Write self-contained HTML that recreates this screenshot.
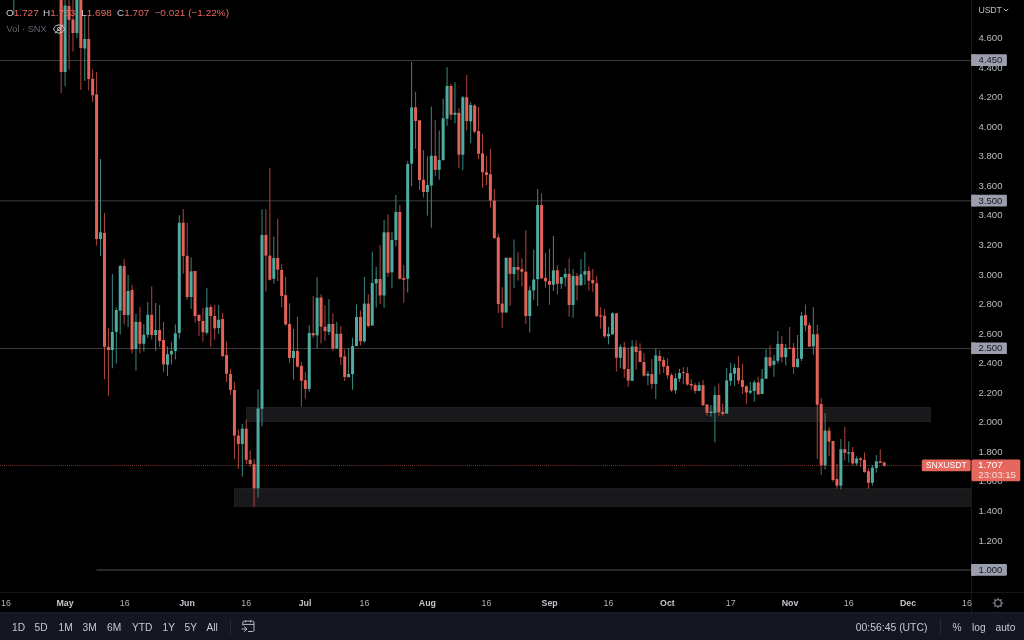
<!DOCTYPE html>
<html><head><meta charset="utf-8"><title>SNXUSDT</title>
<style>
html,body{margin:0;padding:0;background:#000;}
body{width:1024px;height:640px;overflow:hidden;position:relative;font-family:"Liberation Sans",sans-serif;color:#b2b5be;}
#chart{position:absolute;left:0;top:0;width:1024px;height:612px;background:#000;overflow:hidden;}
svg{position:absolute;left:0;top:0;}
.zone{position:absolute;background:#19191c;border:1px solid #1d1d20;box-sizing:border-box;}
#vaxis{position:absolute;left:971px;top:0;width:1px;height:612px;background:#151617;}
#haxis{position:absolute;left:0;top:592px;width:1024px;height:1px;background:#151617;}
.yl{position:absolute;left:978.5px;font-size:9.6px;line-height:12px;color:#b9bcc4;white-space:nowrap;}
.tag{position:absolute;left:971.3px;width:28.4px;height:11.7px;color:#16181e;font-size:9.5px;line-height:12.9px;padding-left:7.3px;white-space:nowrap;}
.xl{position:absolute;top:596.6px;width:40px;text-align:center;font-size:8.9px;line-height:12px;color:#aeb1ba;}
.xl.b{font-weight:bold;color:#c3c5cc;font-size:8.8px;}
#legend{position:absolute;left:0;top:6.5px;font-size:10px;line-height:12px;color:#c9ccd3;white-space:nowrap;}
#legend i{position:absolute;top:0;font-style:normal;transform:scaleY(0.92);transform-origin:0 9.46px;}
#legend span{color:#e8685d;}
#legend2{position:absolute;left:6.6px;top:22.6px;font-size:9.25px;line-height:12px;color:#63666f;white-space:nowrap;}
#bar{position:absolute;left:0;top:612px;width:1024px;height:28px;background:#141622;border-top:1px solid #1c1f2b;box-sizing:border-box;}
#bar .t{position:absolute;top:7.8px;font-size:10.2px;line-height:13px;color:#c6c9d1;white-space:nowrap;}
.sep{position:absolute;top:5.6px;width:1px;height:15.4px;background:#262936;}
#ptag{position:absolute;left:971.5px;top:459.3px;width:48.8px;height:22px;color:#fff;font-size:9.8px;line-height:10.5px;}
#ptag div{position:absolute;left:6.6px;white-space:nowrap;}
#stag{position:absolute;left:921.7px;top:459.3px;width:49px;height:11.8px;color:#fff;font-size:8.55px;line-height:12.8px;text-align:center;}
</style></head><body>
<div id="chart">
<div class="zone" style="left:246px;top:407px;width:685px;height:15px"></div>
<div class="zone" style="left:234px;top:487.7px;width:737px;height:19px"></div>
<svg width="971" height="592" viewBox="0 0 971 592" shape-rendering="auto">
<rect x="0" y="60" width="971" height="1" fill="#3a3b3e"/>
<rect x="0" y="200.3" width="971" height="1" fill="#3a3b3e"/>
<rect x="0" y="348" width="971" height="1" fill="#3a3b3e"/>
<rect x="96.6" y="569" width="874.4" height="2" fill="#29292c"/>
<line x1="0" y1="465.5" x2="921" y2="465.5" stroke="#80383a" stroke-width="1" stroke-dasharray="1 1.03"/>
<rect x="60.65" y="-5.00" width="1" height="98.00" fill="#b0463e"/>
<rect x="64.59" y="-5.00" width="1" height="91.00" fill="#3a8a81"/>
<rect x="68.53" y="-5.00" width="1" height="74.50" fill="#b0463e"/>
<rect x="72.46" y="-5.00" width="1" height="56.50" fill="#b0463e"/>
<rect x="76.40" y="-5.00" width="1" height="43.00" fill="#3a8a81"/>
<rect x="80.34" y="-5.00" width="1" height="95.00" fill="#b0463e"/>
<rect x="84.28" y="15.00" width="1" height="66.00" fill="#3a8a81"/>
<rect x="88.22" y="15.00" width="1" height="75.50" fill="#b0463e"/>
<rect x="92.15" y="69.40" width="1" height="32.50" fill="#b0463e"/>
<rect x="96.09" y="72.20" width="1" height="173.40" fill="#b0463e"/>
<rect x="100.03" y="159.00" width="1" height="97.00" fill="#3a8a81"/>
<rect x="103.97" y="213.00" width="1" height="166.20" fill="#b0463e"/>
<rect x="107.91" y="328.00" width="1" height="68.00" fill="#b0463e"/>
<rect x="111.84" y="274.00" width="1" height="94.30" fill="#3a8a81"/>
<rect x="115.78" y="307.50" width="1" height="56.10" fill="#3a8a81"/>
<rect x="119.72" y="265.00" width="1" height="69.40" fill="#3a8a81"/>
<rect x="123.66" y="259.00" width="1" height="65.50" fill="#b0463e"/>
<rect x="127.60" y="275.00" width="1" height="52.00" fill="#3a8a81"/>
<rect x="131.53" y="285.00" width="1" height="68.40" fill="#b0463e"/>
<rect x="135.47" y="313.60" width="1" height="57.00" fill="#3a8a81"/>
<rect x="139.41" y="307.00" width="1" height="46.40" fill="#b0463e"/>
<rect x="143.35" y="324.00" width="1" height="27.40" fill="#3a8a81"/>
<rect x="147.29" y="302.00" width="1" height="35.80" fill="#3a8a81"/>
<rect x="151.22" y="286.40" width="1" height="53.30" fill="#b0463e"/>
<rect x="155.16" y="303.00" width="1" height="47.80" fill="#3a8a81"/>
<rect x="159.10" y="305.00" width="1" height="41.90" fill="#b0463e"/>
<rect x="163.04" y="322.00" width="1" height="49.90" fill="#b0463e"/>
<rect x="166.98" y="346.40" width="1" height="29.60" fill="#3a8a81"/>
<rect x="170.91" y="342.50" width="1" height="21.90" fill="#3a8a81"/>
<rect x="174.85" y="324.50" width="1" height="34.90" fill="#3a8a81"/>
<rect x="178.79" y="215.30" width="1" height="123.30" fill="#3a8a81"/>
<rect x="182.73" y="209.00" width="1" height="64.75" fill="#b0463e"/>
<rect x="186.67" y="223.00" width="1" height="76.70" fill="#b0463e"/>
<rect x="190.60" y="257.30" width="1" height="51.70" fill="#3a8a81"/>
<rect x="194.54" y="271.00" width="1" height="51.60" fill="#b0463e"/>
<rect x="198.48" y="314.00" width="1" height="21.80" fill="#b0463e"/>
<rect x="202.42" y="308.00" width="1" height="33.70" fill="#b0463e"/>
<rect x="206.36" y="288.00" width="1" height="46.70" fill="#3a8a81"/>
<rect x="210.29" y="304.70" width="1" height="42.50" fill="#b0463e"/>
<rect x="214.23" y="305.00" width="1" height="34.70" fill="#b0463e"/>
<rect x="218.17" y="305.00" width="1" height="29.00" fill="#3a8a81"/>
<rect x="222.11" y="312.80" width="1" height="44.50" fill="#b0463e"/>
<rect x="226.05" y="341.70" width="1" height="40.30" fill="#b0463e"/>
<rect x="229.98" y="369.00" width="1" height="25.80" fill="#b0463e"/>
<rect x="233.92" y="381.90" width="1" height="76.85" fill="#b0463e"/>
<rect x="237.86" y="429.40" width="1" height="39.35" fill="#b0463e"/>
<rect x="241.80" y="423.90" width="1" height="52.70" fill="#3a8a81"/>
<rect x="245.74" y="419.40" width="1" height="44.60" fill="#b0463e"/>
<rect x="249.67" y="450.50" width="1" height="16.10" fill="#b0463e"/>
<rect x="253.61" y="459.00" width="1" height="47.70" fill="#b0463e"/>
<rect x="257.55" y="389.20" width="1" height="108.50" fill="#3a8a81"/>
<rect x="261.49" y="209.20" width="1" height="217.20" fill="#3a8a81"/>
<rect x="265.43" y="209.20" width="1" height="82.40" fill="#b0463e"/>
<rect x="269.36" y="167.80" width="1" height="112.80" fill="#b0463e"/>
<rect x="273.30" y="236.90" width="1" height="46.85" fill="#3a8a81"/>
<rect x="277.24" y="218.60" width="1" height="62.40" fill="#b0463e"/>
<rect x="281.18" y="264.20" width="1" height="43.00" fill="#b0463e"/>
<rect x="285.12" y="277.00" width="1" height="48.60" fill="#b0463e"/>
<rect x="289.05" y="303.30" width="1" height="59.40" fill="#b0463e"/>
<rect x="292.99" y="329.00" width="1" height="50.60" fill="#3a8a81"/>
<rect x="296.93" y="316.80" width="1" height="50.70" fill="#b0463e"/>
<rect x="300.87" y="361.90" width="1" height="44.90" fill="#b0463e"/>
<rect x="304.81" y="372.00" width="1" height="26.60" fill="#b0463e"/>
<rect x="308.74" y="325.20" width="1" height="66.40" fill="#3a8a81"/>
<rect x="312.68" y="296.25" width="1" height="41.75" fill="#b0463e"/>
<rect x="316.62" y="277.20" width="1" height="71.40" fill="#3a8a81"/>
<rect x="320.56" y="294.40" width="1" height="49.20" fill="#b0463e"/>
<rect x="324.50" y="305.30" width="1" height="35.50" fill="#b0463e"/>
<rect x="328.43" y="299.00" width="1" height="36.00" fill="#3a8a81"/>
<rect x="332.37" y="313.40" width="1" height="37.60" fill="#b0463e"/>
<rect x="336.31" y="321.70" width="1" height="26.90" fill="#3a8a81"/>
<rect x="340.25" y="326.00" width="1" height="39.00" fill="#b0463e"/>
<rect x="344.19" y="349.40" width="1" height="31.60" fill="#b0463e"/>
<rect x="348.12" y="348.30" width="1" height="28.90" fill="#3a8a81"/>
<rect x="352.06" y="337.70" width="1" height="52.00" fill="#3a8a81"/>
<rect x="356.00" y="304.50" width="1" height="41.75" fill="#3a8a81"/>
<rect x="359.94" y="310.60" width="1" height="34.90" fill="#b0463e"/>
<rect x="363.88" y="277.00" width="1" height="66.00" fill="#3a8a81"/>
<rect x="367.81" y="294.20" width="1" height="33.30" fill="#b0463e"/>
<rect x="371.75" y="251.80" width="1" height="73.70" fill="#3a8a81"/>
<rect x="375.69" y="267.00" width="1" height="40.50" fill="#3a8a81"/>
<rect x="379.63" y="245.00" width="1" height="59.00" fill="#b0463e"/>
<rect x="383.57" y="220.00" width="1" height="87.70" fill="#3a8a81"/>
<rect x="387.50" y="214.40" width="1" height="62.30" fill="#b0463e"/>
<rect x="391.44" y="232.00" width="1" height="56.40" fill="#3a8a81"/>
<rect x="395.38" y="195.00" width="1" height="51.25" fill="#3a8a81"/>
<rect x="399.32" y="205.00" width="1" height="74.50" fill="#b0463e"/>
<rect x="403.26" y="265.00" width="1" height="37.70" fill="#b0463e"/>
<rect x="407.19" y="161.25" width="1" height="131.25" fill="#3a8a81"/>
<rect x="411.13" y="62.00" width="1" height="124.25" fill="#3a8a81"/>
<rect x="415.07" y="91.70" width="1" height="57.05" fill="#b0463e"/>
<rect x="419.01" y="120.30" width="1" height="69.70" fill="#b0463e"/>
<rect x="422.95" y="150.00" width="1" height="47.50" fill="#b0463e"/>
<rect x="426.88" y="156.25" width="1" height="59.35" fill="#3a8a81"/>
<rect x="430.82" y="106.60" width="1" height="121.10" fill="#3a8a81"/>
<rect x="434.76" y="120.30" width="1" height="56.10" fill="#b0463e"/>
<rect x="438.70" y="130.50" width="1" height="49.20" fill="#3a8a81"/>
<rect x="442.64" y="98.75" width="1" height="62.05" fill="#3a8a81"/>
<rect x="446.57" y="67.20" width="1" height="58.60" fill="#3a8a81"/>
<rect x="450.51" y="84.00" width="1" height="35.80" fill="#b0463e"/>
<rect x="454.45" y="82.30" width="1" height="41.10" fill="#3a8a81"/>
<rect x="458.39" y="108.00" width="1" height="60.00" fill="#b0463e"/>
<rect x="462.33" y="96.00" width="1" height="74.30" fill="#3a8a81"/>
<rect x="466.26" y="75.00" width="1" height="55.50" fill="#b0463e"/>
<rect x="470.20" y="102.30" width="1" height="40.90" fill="#3a8a81"/>
<rect x="474.14" y="104.20" width="1" height="29.30" fill="#b0463e"/>
<rect x="478.08" y="107.00" width="1" height="52.00" fill="#b0463e"/>
<rect x="482.02" y="134.00" width="1" height="53.80" fill="#b0463e"/>
<rect x="485.95" y="155.80" width="1" height="29.20" fill="#b0463e"/>
<rect x="489.89" y="149.00" width="1" height="58.70" fill="#b0463e"/>
<rect x="493.83" y="189.00" width="1" height="50.00" fill="#b0463e"/>
<rect x="497.77" y="233.75" width="1" height="79.25" fill="#b0463e"/>
<rect x="501.71" y="287.10" width="1" height="40.70" fill="#b0463e"/>
<rect x="505.64" y="257.70" width="1" height="54.80" fill="#3a8a81"/>
<rect x="509.58" y="257.70" width="1" height="48.10" fill="#b0463e"/>
<rect x="513.52" y="239.40" width="1" height="48.60" fill="#3a8a81"/>
<rect x="517.46" y="252.20" width="1" height="28.40" fill="#b0463e"/>
<rect x="521.40" y="258.40" width="1" height="28.10" fill="#b0463e"/>
<rect x="525.33" y="230.30" width="1" height="93.70" fill="#b0463e"/>
<rect x="529.27" y="286.30" width="1" height="46.20" fill="#3a8a81"/>
<rect x="533.21" y="249.50" width="1" height="50.25" fill="#3a8a81"/>
<rect x="537.15" y="189.00" width="1" height="117.10" fill="#3a8a81"/>
<rect x="541.09" y="193.30" width="1" height="85.20" fill="#b0463e"/>
<rect x="545.02" y="253.00" width="1" height="34.50" fill="#b0463e"/>
<rect x="548.96" y="248.75" width="1" height="55.95" fill="#b0463e"/>
<rect x="552.90" y="236.00" width="1" height="55.00" fill="#3a8a81"/>
<rect x="556.84" y="265.20" width="1" height="29.30" fill="#b0463e"/>
<rect x="560.78" y="277.00" width="1" height="12.00" fill="#3a8a81"/>
<rect x="564.71" y="268.30" width="1" height="18.10" fill="#3a8a81"/>
<rect x="568.65" y="258.40" width="1" height="58.50" fill="#b0463e"/>
<rect x="572.59" y="269.00" width="1" height="48.70" fill="#3a8a81"/>
<rect x="576.53" y="273.00" width="1" height="27.50" fill="#b0463e"/>
<rect x="580.47" y="259.20" width="1" height="26.10" fill="#3a8a81"/>
<rect x="584.40" y="251.90" width="1" height="32.90" fill="#3a8a81"/>
<rect x="588.34" y="266.40" width="1" height="23.90" fill="#b0463e"/>
<rect x="592.28" y="269.00" width="1" height="22.90" fill="#b0463e"/>
<rect x="596.22" y="276.20" width="1" height="41.00" fill="#b0463e"/>
<rect x="600.16" y="307.20" width="1" height="21.40" fill="#b0463e"/>
<rect x="604.09" y="309.00" width="1" height="29.00" fill="#b0463e"/>
<rect x="608.03" y="326.90" width="1" height="17.50" fill="#3a8a81"/>
<rect x="611.97" y="312.20" width="1" height="22.20" fill="#3a8a81"/>
<rect x="615.91" y="313.30" width="1" height="58.30" fill="#b0463e"/>
<rect x="619.85" y="344.50" width="1" height="23.50" fill="#3a8a81"/>
<rect x="623.78" y="341.90" width="1" height="35.80" fill="#b0463e"/>
<rect x="627.72" y="347.70" width="1" height="39.00" fill="#b0463e"/>
<rect x="631.66" y="340.30" width="1" height="40.50" fill="#3a8a81"/>
<rect x="635.60" y="340.30" width="1" height="29.20" fill="#b0463e"/>
<rect x="639.54" y="343.40" width="1" height="18.60" fill="#b0463e"/>
<rect x="643.47" y="353.00" width="1" height="23.60" fill="#b0463e"/>
<rect x="647.41" y="371.00" width="1" height="14.30" fill="#3a8a81"/>
<rect x="651.35" y="359.00" width="1" height="29.80" fill="#b0463e"/>
<rect x="655.29" y="348.40" width="1" height="50.70" fill="#3a8a81"/>
<rect x="659.23" y="350.30" width="1" height="24.20" fill="#b0463e"/>
<rect x="663.16" y="357.00" width="1" height="16.00" fill="#b0463e"/>
<rect x="667.10" y="358.30" width="1" height="20.40" fill="#b0463e"/>
<rect x="671.04" y="373.10" width="1" height="18.70" fill="#b0463e"/>
<rect x="674.98" y="373.10" width="1" height="20.60" fill="#3a8a81"/>
<rect x="678.92" y="368.70" width="1" height="13.30" fill="#3a8a81"/>
<rect x="682.85" y="367.10" width="1" height="17.20" fill="#b0463e"/>
<rect x="686.79" y="367.10" width="1" height="18.60" fill="#b0463e"/>
<rect x="690.73" y="379.00" width="1" height="10.75" fill="#b0463e"/>
<rect x="694.67" y="383.20" width="1" height="10.50" fill="#b0463e"/>
<rect x="698.61" y="382.00" width="1" height="9.00" fill="#3a8a81"/>
<rect x="702.54" y="380.10" width="1" height="25.70" fill="#b0463e"/>
<rect x="706.48" y="404.50" width="1" height="11.30" fill="#b0463e"/>
<rect x="710.42" y="405.00" width="1" height="11.60" fill="#3a8a81"/>
<rect x="714.36" y="386.25" width="1" height="56.05" fill="#3a8a81"/>
<rect x="718.30" y="383.50" width="1" height="32.30" fill="#b0463e"/>
<rect x="722.23" y="403.40" width="1" height="12.40" fill="#b0463e"/>
<rect x="726.17" y="368.00" width="1" height="45.60" fill="#3a8a81"/>
<rect x="730.11" y="362.90" width="1" height="23.00" fill="#3a8a81"/>
<rect x="734.05" y="364.00" width="1" height="21.90" fill="#3a8a81"/>
<rect x="737.99" y="355.80" width="1" height="28.65" fill="#b0463e"/>
<rect x="741.92" y="363.85" width="1" height="30.25" fill="#b0463e"/>
<rect x="745.86" y="385.20" width="1" height="19.00" fill="#b0463e"/>
<rect x="749.80" y="382.00" width="1" height="12.10" fill="#3a8a81"/>
<rect x="753.74" y="380.40" width="1" height="21.50" fill="#3a8a81"/>
<rect x="757.68" y="376.90" width="1" height="17.55" fill="#b0463e"/>
<rect x="761.61" y="369.00" width="1" height="25.00" fill="#3a8a81"/>
<rect x="765.55" y="349.00" width="1" height="29.75" fill="#3a8a81"/>
<rect x="769.49" y="345.50" width="1" height="22.20" fill="#b0463e"/>
<rect x="773.43" y="354.80" width="1" height="22.00" fill="#3a8a81"/>
<rect x="777.37" y="331.00" width="1" height="32.40" fill="#3a8a81"/>
<rect x="781.30" y="336.00" width="1" height="26.60" fill="#b0463e"/>
<rect x="785.24" y="343.90" width="1" height="21.60" fill="#3a8a81"/>
<rect x="789.18" y="327.00" width="1" height="22.00" fill="#b0463e"/>
<rect x="793.12" y="342.80" width="1" height="31.10" fill="#b0463e"/>
<rect x="797.06" y="335.00" width="1" height="32.20" fill="#3a8a81"/>
<rect x="800.99" y="311.90" width="1" height="49.10" fill="#3a8a81"/>
<rect x="804.93" y="304.50" width="1" height="26.90" fill="#b0463e"/>
<rect x="808.87" y="322.50" width="1" height="24.50" fill="#b0463e"/>
<rect x="812.81" y="307.20" width="1" height="47.60" fill="#3a8a81"/>
<rect x="816.75" y="324.70" width="1" height="134.05" fill="#b0463e"/>
<rect x="820.68" y="397.80" width="1" height="76.90" fill="#b0463e"/>
<rect x="824.62" y="413.00" width="1" height="56.70" fill="#3a8a81"/>
<rect x="828.56" y="427.00" width="1" height="29.00" fill="#b0463e"/>
<rect x="832.50" y="441.00" width="1" height="40.70" fill="#b0463e"/>
<rect x="836.44" y="464.20" width="1" height="24.55" fill="#b0463e"/>
<rect x="840.37" y="439.00" width="1" height="50.50" fill="#3a8a81"/>
<rect x="844.31" y="427.00" width="1" height="33.60" fill="#b0463e"/>
<rect x="848.25" y="441.40" width="1" height="21.10" fill="#3a8a81"/>
<rect x="852.19" y="447.00" width="1" height="18.30" fill="#b0463e"/>
<rect x="856.13" y="456.25" width="1" height="9.55" fill="#3a8a81"/>
<rect x="860.06" y="457.50" width="1" height="9.40" fill="#b0463e"/>
<rect x="864.00" y="452.50" width="1" height="20.20" fill="#b0463e"/>
<rect x="867.94" y="468.40" width="1" height="20.35" fill="#b0463e"/>
<rect x="871.88" y="465.00" width="1" height="20.60" fill="#3a8a81"/>
<rect x="875.82" y="455.20" width="1" height="17.50" fill="#3a8a81"/>
<rect x="879.75" y="449.20" width="1" height="13.80" fill="#b0463e"/>
<rect x="883.69" y="461.40" width="1" height="5.20" fill="#b0463e"/>
<rect x="59.65" y="-5.00" width="3" height="77.00" fill="#e26257"/>
<rect x="63.59" y="5.50" width="3" height="66.50" fill="#4fab9f"/>
<rect x="67.53" y="6.00" width="3" height="14.00" fill="#e26257"/>
<rect x="71.46" y="19.50" width="3" height="13.50" fill="#e26257"/>
<rect x="75.40" y="-5.00" width="3" height="38.00" fill="#4fab9f"/>
<rect x="79.34" y="-5.00" width="3" height="53.00" fill="#e26257"/>
<rect x="83.28" y="39.00" width="3" height="9.50" fill="#4fab9f"/>
<rect x="87.22" y="39.00" width="3" height="40.00" fill="#e26257"/>
<rect x="91.15" y="78.80" width="3" height="16.50" fill="#e26257"/>
<rect x="95.09" y="94.40" width="3" height="144.60" fill="#e26257"/>
<rect x="99.03" y="232.30" width="3" height="6.70" fill="#4fab9f"/>
<rect x="102.97" y="233.00" width="3" height="113.90" fill="#e26257"/>
<rect x="106.91" y="346.90" width="3" height="3.10" fill="#e26257"/>
<rect x="110.84" y="332.00" width="3" height="18.00" fill="#4fab9f"/>
<rect x="114.78" y="310.00" width="3" height="21.90" fill="#4fab9f"/>
<rect x="118.72" y="266.00" width="3" height="44.50" fill="#4fab9f"/>
<rect x="122.66" y="266.00" width="3" height="49.00" fill="#e26257"/>
<rect x="126.60" y="291.00" width="3" height="24.00" fill="#4fab9f"/>
<rect x="130.53" y="290.00" width="3" height="59.50" fill="#e26257"/>
<rect x="134.47" y="321.90" width="3" height="27.10" fill="#4fab9f"/>
<rect x="138.41" y="321.90" width="3" height="21.85" fill="#e26257"/>
<rect x="142.35" y="334.70" width="3" height="9.05" fill="#4fab9f"/>
<rect x="146.29" y="314.80" width="3" height="19.90" fill="#4fab9f"/>
<rect x="150.22" y="314.80" width="3" height="20.20" fill="#e26257"/>
<rect x="154.16" y="330.00" width="3" height="5.00" fill="#4fab9f"/>
<rect x="158.10" y="330.00" width="3" height="11.00" fill="#e26257"/>
<rect x="162.04" y="340.00" width="3" height="24.40" fill="#e26257"/>
<rect x="165.98" y="354.20" width="3" height="10.60" fill="#4fab9f"/>
<rect x="169.91" y="351.00" width="3" height="3.50" fill="#4fab9f"/>
<rect x="173.85" y="333.40" width="3" height="17.60" fill="#4fab9f"/>
<rect x="177.79" y="222.70" width="3" height="110.30" fill="#4fab9f"/>
<rect x="181.73" y="222.70" width="3" height="33.30" fill="#e26257"/>
<rect x="185.67" y="255.80" width="3" height="41.20" fill="#e26257"/>
<rect x="189.60" y="271.40" width="3" height="25.60" fill="#4fab9f"/>
<rect x="193.54" y="271.00" width="3" height="45.00" fill="#e26257"/>
<rect x="197.48" y="315.00" width="3" height="6.00" fill="#e26257"/>
<rect x="201.42" y="321.00" width="3" height="11.30" fill="#e26257"/>
<rect x="205.36" y="307.50" width="3" height="25.30" fill="#4fab9f"/>
<rect x="209.29" y="307.00" width="3" height="9.00" fill="#e26257"/>
<rect x="213.23" y="316.00" width="3" height="12.40" fill="#e26257"/>
<rect x="217.17" y="319.80" width="3" height="8.20" fill="#4fab9f"/>
<rect x="221.11" y="319.00" width="3" height="37.00" fill="#e26257"/>
<rect x="225.05" y="355.00" width="3" height="18.75" fill="#e26257"/>
<rect x="228.98" y="374.00" width="3" height="15.80" fill="#e26257"/>
<rect x="232.92" y="390.00" width="3" height="45.50" fill="#e26257"/>
<rect x="236.86" y="435.60" width="3" height="8.30" fill="#e26257"/>
<rect x="240.80" y="428.60" width="3" height="15.30" fill="#4fab9f"/>
<rect x="244.74" y="428.60" width="3" height="31.20" fill="#e26257"/>
<rect x="248.67" y="459.80" width="3" height="4.20" fill="#e26257"/>
<rect x="252.61" y="464.20" width="3" height="24.10" fill="#e26257"/>
<rect x="256.55" y="408.50" width="3" height="79.80" fill="#4fab9f"/>
<rect x="260.49" y="235.00" width="3" height="173.75" fill="#4fab9f"/>
<rect x="264.43" y="235.00" width="3" height="20.60" fill="#e26257"/>
<rect x="268.36" y="255.60" width="3" height="24.20" fill="#e26257"/>
<rect x="272.30" y="258.00" width="3" height="20.75" fill="#4fab9f"/>
<rect x="276.24" y="258.00" width="3" height="11.70" fill="#e26257"/>
<rect x="280.18" y="270.00" width="3" height="26.00" fill="#e26257"/>
<rect x="284.12" y="295.20" width="3" height="29.20" fill="#e26257"/>
<rect x="288.05" y="324.00" width="3" height="34.00" fill="#e26257"/>
<rect x="291.99" y="351.00" width="3" height="7.00" fill="#4fab9f"/>
<rect x="295.93" y="351.00" width="3" height="15.60" fill="#e26257"/>
<rect x="299.87" y="365.90" width="3" height="14.90" fill="#e26257"/>
<rect x="303.81" y="380.20" width="3" height="8.70" fill="#e26257"/>
<rect x="307.74" y="333.00" width="3" height="55.90" fill="#4fab9f"/>
<rect x="311.68" y="333.00" width="3" height="2.30" fill="#e26257"/>
<rect x="315.62" y="297.80" width="3" height="37.60" fill="#4fab9f"/>
<rect x="319.56" y="297.50" width="3" height="29.20" fill="#e26257"/>
<rect x="323.50" y="326.70" width="3" height="4.50" fill="#e26257"/>
<rect x="327.43" y="324.00" width="3" height="7.90" fill="#4fab9f"/>
<rect x="331.37" y="324.00" width="3" height="24.60" fill="#e26257"/>
<rect x="335.31" y="333.75" width="3" height="14.85" fill="#4fab9f"/>
<rect x="339.25" y="333.75" width="3" height="23.45" fill="#e26257"/>
<rect x="343.19" y="356.40" width="3" height="20.60" fill="#e26257"/>
<rect x="347.12" y="374.00" width="3" height="3.20" fill="#4fab9f"/>
<rect x="351.06" y="346.00" width="3" height="28.20" fill="#4fab9f"/>
<rect x="355.00" y="316.90" width="3" height="29.10" fill="#4fab9f"/>
<rect x="358.94" y="316.90" width="3" height="24.35" fill="#e26257"/>
<rect x="362.88" y="303.60" width="3" height="37.65" fill="#4fab9f"/>
<rect x="366.81" y="303.60" width="3" height="22.40" fill="#e26257"/>
<rect x="370.75" y="283.00" width="3" height="42.50" fill="#4fab9f"/>
<rect x="374.69" y="279.00" width="3" height="4.40" fill="#4fab9f"/>
<rect x="378.63" y="279.00" width="3" height="16.50" fill="#e26257"/>
<rect x="382.57" y="232.30" width="3" height="63.20" fill="#4fab9f"/>
<rect x="386.50" y="232.30" width="3" height="40.50" fill="#e26257"/>
<rect x="390.44" y="240.00" width="3" height="32.30" fill="#4fab9f"/>
<rect x="394.38" y="211.90" width="3" height="28.10" fill="#4fab9f"/>
<rect x="398.32" y="212.00" width="3" height="66.75" fill="#e26257"/>
<rect x="402.26" y="278.00" width="3" height="1.80" fill="#e26257"/>
<rect x="406.19" y="164.00" width="3" height="114.75" fill="#4fab9f"/>
<rect x="410.13" y="107.30" width="3" height="56.30" fill="#4fab9f"/>
<rect x="414.07" y="107.30" width="3" height="13.70" fill="#e26257"/>
<rect x="418.01" y="120.30" width="3" height="59.70" fill="#e26257"/>
<rect x="421.95" y="179.70" width="3" height="12.30" fill="#e26257"/>
<rect x="425.88" y="185.00" width="3" height="7.00" fill="#4fab9f"/>
<rect x="429.82" y="155.80" width="3" height="29.70" fill="#4fab9f"/>
<rect x="433.76" y="155.80" width="3" height="14.00" fill="#e26257"/>
<rect x="437.70" y="160.00" width="3" height="9.80" fill="#4fab9f"/>
<rect x="441.64" y="118.30" width="3" height="41.70" fill="#4fab9f"/>
<rect x="445.57" y="86.00" width="3" height="32.75" fill="#4fab9f"/>
<rect x="449.51" y="86.00" width="3" height="28.80" fill="#e26257"/>
<rect x="453.45" y="112.80" width="3" height="2.00" fill="#4fab9f"/>
<rect x="457.39" y="112.80" width="3" height="41.90" fill="#e26257"/>
<rect x="461.33" y="97.30" width="3" height="57.40" fill="#4fab9f"/>
<rect x="465.26" y="97.30" width="3" height="23.70" fill="#e26257"/>
<rect x="469.20" y="105.00" width="3" height="16.40" fill="#4fab9f"/>
<rect x="473.14" y="105.50" width="3" height="26.10" fill="#e26257"/>
<rect x="477.08" y="131.00" width="3" height="22.75" fill="#e26257"/>
<rect x="481.02" y="153.40" width="3" height="18.80" fill="#e26257"/>
<rect x="484.95" y="172.20" width="3" height="2.80" fill="#e26257"/>
<rect x="488.89" y="174.20" width="3" height="26.40" fill="#e26257"/>
<rect x="492.83" y="200.60" width="3" height="37.40" fill="#e26257"/>
<rect x="496.77" y="237.30" width="3" height="66.70" fill="#e26257"/>
<rect x="500.71" y="303.60" width="3" height="8.90" fill="#e26257"/>
<rect x="504.64" y="257.70" width="3" height="54.80" fill="#4fab9f"/>
<rect x="508.58" y="257.70" width="3" height="16.10" fill="#e26257"/>
<rect x="512.52" y="267.00" width="3" height="7.10" fill="#4fab9f"/>
<rect x="516.46" y="267.00" width="3" height="2.80" fill="#e26257"/>
<rect x="520.40" y="269.00" width="3" height="2.80" fill="#e26257"/>
<rect x="524.33" y="271.70" width="3" height="44.30" fill="#e26257"/>
<rect x="528.27" y="290.40" width="3" height="25.60" fill="#4fab9f"/>
<rect x="532.21" y="279.50" width="3" height="10.90" fill="#4fab9f"/>
<rect x="536.15" y="205.00" width="3" height="74.20" fill="#4fab9f"/>
<rect x="540.09" y="205.00" width="3" height="73.50" fill="#e26257"/>
<rect x="544.02" y="277.80" width="3" height="3.45" fill="#e26257"/>
<rect x="547.96" y="281.00" width="3" height="3.80" fill="#e26257"/>
<rect x="551.90" y="270.30" width="3" height="14.50" fill="#4fab9f"/>
<rect x="555.84" y="270.30" width="3" height="13.45" fill="#e26257"/>
<rect x="559.78" y="277.00" width="3" height="6.75" fill="#4fab9f"/>
<rect x="563.71" y="273.90" width="3" height="3.60" fill="#4fab9f"/>
<rect x="567.65" y="273.90" width="3" height="31.10" fill="#e26257"/>
<rect x="571.59" y="276.00" width="3" height="29.00" fill="#4fab9f"/>
<rect x="575.53" y="276.00" width="3" height="9.30" fill="#e26257"/>
<rect x="579.47" y="274.30" width="3" height="11.00" fill="#4fab9f"/>
<rect x="583.40" y="271.20" width="3" height="3.50" fill="#4fab9f"/>
<rect x="587.34" y="271.00" width="3" height="9.60" fill="#e26257"/>
<rect x="591.28" y="280.00" width="3" height="3.30" fill="#e26257"/>
<rect x="595.22" y="283.30" width="3" height="32.70" fill="#e26257"/>
<rect x="599.16" y="315.30" width="3" height="1.30" fill="#e26257"/>
<rect x="603.09" y="315.80" width="3" height="20.50" fill="#e26257"/>
<rect x="607.03" y="334.00" width="3" height="2.30" fill="#4fab9f"/>
<rect x="610.97" y="313.30" width="3" height="21.10" fill="#4fab9f"/>
<rect x="614.91" y="313.30" width="3" height="44.40" fill="#e26257"/>
<rect x="618.85" y="346.90" width="3" height="10.90" fill="#4fab9f"/>
<rect x="622.78" y="347.30" width="3" height="21.70" fill="#e26257"/>
<rect x="626.72" y="369.00" width="3" height="11.50" fill="#e26257"/>
<rect x="630.66" y="346.60" width="3" height="34.20" fill="#4fab9f"/>
<rect x="634.60" y="346.60" width="3" height="5.40" fill="#e26257"/>
<rect x="638.54" y="350.80" width="3" height="11.20" fill="#e26257"/>
<rect x="642.47" y="362.00" width="3" height="13.60" fill="#e26257"/>
<rect x="646.41" y="373.75" width="3" height="1.95" fill="#4fab9f"/>
<rect x="650.35" y="374.10" width="3" height="9.80" fill="#e26257"/>
<rect x="654.29" y="355.50" width="3" height="28.40" fill="#4fab9f"/>
<rect x="658.23" y="356.00" width="3" height="5.00" fill="#e26257"/>
<rect x="662.16" y="360.00" width="3" height="6.70" fill="#e26257"/>
<rect x="666.10" y="366.00" width="3" height="9.25" fill="#e26257"/>
<rect x="670.04" y="375.10" width="3" height="15.30" fill="#e26257"/>
<rect x="673.98" y="378.20" width="3" height="12.20" fill="#4fab9f"/>
<rect x="677.92" y="372.90" width="3" height="5.80" fill="#4fab9f"/>
<rect x="681.85" y="372.20" width="3" height="1.00" fill="#e26257"/>
<rect x="685.79" y="373.20" width="3" height="11.30" fill="#e26257"/>
<rect x="689.73" y="384.00" width="3" height="1.50" fill="#e26257"/>
<rect x="693.67" y="385.10" width="3" height="5.90" fill="#e26257"/>
<rect x="697.61" y="385.10" width="3" height="5.90" fill="#4fab9f"/>
<rect x="701.54" y="385.10" width="3" height="20.20" fill="#e26257"/>
<rect x="705.48" y="404.50" width="3" height="8.30" fill="#e26257"/>
<rect x="709.42" y="411.60" width="3" height="1.40" fill="#4fab9f"/>
<rect x="713.36" y="395.00" width="3" height="18.00" fill="#4fab9f"/>
<rect x="717.30" y="395.00" width="3" height="17.30" fill="#e26257"/>
<rect x="721.23" y="411.90" width="3" height="2.00" fill="#e26257"/>
<rect x="725.17" y="380.40" width="3" height="33.20" fill="#4fab9f"/>
<rect x="729.11" y="373.20" width="3" height="7.70" fill="#4fab9f"/>
<rect x="733.05" y="367.90" width="3" height="5.85" fill="#4fab9f"/>
<rect x="736.99" y="367.90" width="3" height="12.65" fill="#e26257"/>
<rect x="740.92" y="380.00" width="3" height="6.95" fill="#e26257"/>
<rect x="744.86" y="386.25" width="3" height="6.25" fill="#e26257"/>
<rect x="748.80" y="390.70" width="3" height="1.95" fill="#4fab9f"/>
<rect x="752.74" y="382.30" width="3" height="8.70" fill="#4fab9f"/>
<rect x="756.68" y="382.50" width="3" height="11.95" fill="#e26257"/>
<rect x="760.61" y="378.75" width="3" height="15.25" fill="#4fab9f"/>
<rect x="764.55" y="357.20" width="3" height="21.55" fill="#4fab9f"/>
<rect x="768.49" y="357.20" width="3" height="8.70" fill="#e26257"/>
<rect x="772.43" y="360.80" width="3" height="4.00" fill="#4fab9f"/>
<rect x="776.37" y="343.90" width="3" height="16.90" fill="#4fab9f"/>
<rect x="780.30" y="343.90" width="3" height="13.30" fill="#e26257"/>
<rect x="784.24" y="347.80" width="3" height="9.40" fill="#4fab9f"/>
<rect x="788.18" y="347.80" width="3" height="1.20" fill="#e26257"/>
<rect x="792.12" y="347.80" width="3" height="19.20" fill="#e26257"/>
<rect x="796.06" y="358.75" width="3" height="8.45" fill="#4fab9f"/>
<rect x="799.99" y="315.80" width="3" height="42.95" fill="#4fab9f"/>
<rect x="803.93" y="315.00" width="3" height="10.60" fill="#e26257"/>
<rect x="807.87" y="325.20" width="3" height="21.40" fill="#e26257"/>
<rect x="811.81" y="334.20" width="3" height="12.05" fill="#4fab9f"/>
<rect x="815.75" y="334.20" width="3" height="70.50" fill="#e26257"/>
<rect x="819.68" y="404.00" width="3" height="61.30" fill="#e26257"/>
<rect x="823.62" y="430.60" width="3" height="34.70" fill="#4fab9f"/>
<rect x="827.56" y="430.60" width="3" height="11.00" fill="#e26257"/>
<rect x="831.50" y="441.00" width="3" height="39.00" fill="#e26257"/>
<rect x="835.44" y="479.00" width="3" height="6.60" fill="#e26257"/>
<rect x="839.37" y="449.20" width="3" height="36.40" fill="#4fab9f"/>
<rect x="843.31" y="449.20" width="3" height="3.60" fill="#e26257"/>
<rect x="847.25" y="452.30" width="3" height="1.30" fill="#4fab9f"/>
<rect x="851.19" y="452.00" width="3" height="11.40" fill="#e26257"/>
<rect x="855.13" y="458.60" width="3" height="4.80" fill="#4fab9f"/>
<rect x="859.06" y="458.30" width="3" height="1.50" fill="#e26257"/>
<rect x="863.00" y="459.80" width="3" height="12.10" fill="#e26257"/>
<rect x="866.94" y="471.25" width="3" height="11.55" fill="#e26257"/>
<rect x="870.88" y="467.70" width="3" height="15.10" fill="#4fab9f"/>
<rect x="874.82" y="461.40" width="3" height="6.60" fill="#4fab9f"/>
<rect x="878.75" y="461.40" width="3" height="1.60" fill="#e26257"/>
<rect x="882.69" y="462.50" width="3" height="3.10" fill="#e26257"/>
<rect x="13.3" y="0" width="1" height="15" fill="#3a8a81"/>
</svg>
<div id="legend"><i style="left:5.9px">O<span>1.727</span></i><i style="left:43px">H<span>1.733</span></i><i style="left:81.2px">L<span>1.698</span></i><i style="left:117px">C<span>1.707</span></i><i style="left:154.5px"><span>−0.021 (−1.22%)</span></i></div>
<div id="legend2">Vol · SNX</div>
<svg width="16" height="14" viewBox="0 0 16 14" style="left:51.3px;top:21.5px"><g fill="none" stroke="#cfd1d7" stroke-width="0.95"><path d="M2.5 7 C4.6 1.6 11.4 1.6 13.5 7 C11.4 12.4 4.6 12.4 2.5 7 Z"/><circle cx="8" cy="7" r="1.7" stroke-width="0.8"/><line x1="3.9" y1="11.3" x2="12.5" y2="2.7"/></g></svg>
<div id="vaxis"></div><div id="haxis"></div>
<div class="yl" style="top:32.1px">4.600</div><div class="yl" style="top:61.6px">4.400</div><div class="yl" style="top:91.2px">4.200</div><div class="yl" style="top:120.8px">4.000</div><div class="yl" style="top:150.3px">3.800</div><div class="yl" style="top:179.8px">3.600</div><div class="yl" style="top:209.4px">3.400</div><div class="yl" style="top:238.9px">3.200</div><div class="yl" style="top:268.5px">3.000</div><div class="yl" style="top:298.1px">2.800</div><div class="yl" style="top:327.6px">2.600</div><div class="yl" style="top:357.1px">2.400</div><div class="yl" style="top:386.7px">2.200</div><div class="yl" style="top:416.2px">2.000</div><div class="yl" style="top:445.8px">1.800</div><div class="yl" style="top:475.3px">1.600</div><div class="yl" style="top:504.9px">1.400</div><div class="yl" style="top:534.5px">1.200</div>
<svg width="1024" height="612" viewBox="0 0 1024 612">
<g fill="#9b9eac"><rect x="971.3" y="54.3" width="4" height="11.7"/><rect x="971.3" y="194.7" width="4" height="11.7"/><rect x="971.3" y="342.4" width="4" height="11.7"/><rect x="971.3" y="564.1" width="4" height="11.7"/><rect x="971.3" y="54.3" width="35.6" height="11.7" rx="1.2"/><rect x="971.3" y="194.7" width="35.6" height="11.7" rx="1.2"/><rect x="971.3" y="342.4" width="35.6" height="11.7" rx="1.2"/><rect x="971.3" y="564.1" width="35.6" height="11.7" rx="1.2"/></g>
<rect x="921.8" y="459.4" width="48.9" height="11.8" rx="1.5" fill="#e5675d"/>
<rect x="971.5" y="459.4" width="48.8" height="21.9" rx="1.5" fill="#e5675d"/>
</svg>
<div class="yl" style="top:4px;font-size:8.8px;letter-spacing:-0.2px">USDT</div>
<svg width="6" height="4" viewBox="0 0 6 4" style="left:1002.6px;top:7.8px"><path d="M0.8 0.8 L3 3 L5.2 0.8" fill="none" stroke="#b9bcc4" stroke-width="1"/></svg>
<div class="tag" style="top:54.3px">4.450</div>
<div class="tag" style="top:194.7px">3.500</div>
<div class="tag" style="top:342.4px">2.500</div>
<div class="tag" style="top:564.1px">1.000</div>
<div id="stag">SNXUSDT</div>
<div id="ptag"><div style="top:0.9px">1.707</div><div style="top:10.7px;left:6.8px;font-size:9.7px;color:rgba(255,255,255,0.78)">23:03:15</div></div>
<div class="xl" style="left:-14px">16</div><div class="xl b" style="left:45px">May</div><div class="xl" style="left:104.7px">16</div><div class="xl b" style="left:167px">Jun</div><div class="xl" style="left:226.3px">16</div><div class="xl b" style="left:285px">Jul</div><div class="xl" style="left:344.4px">16</div><div class="xl b" style="left:407.4px">Aug</div><div class="xl" style="left:466.4px">16</div><div class="xl b" style="left:529.7px">Sep</div><div class="xl" style="left:588.4px">16</div><div class="xl b" style="left:647.4px">Oct</div><div class="xl" style="left:710.7px">17</div><div class="xl b" style="left:770px">Nov</div><div class="xl" style="left:828.7px">16</div><div class="xl b" style="left:888.1px">Dec</div><div class="xl" style="left:947px">16</div>
<svg width="16" height="16" viewBox="0 0 16 16" style="left:989.5px;top:595px"><circle cx="8" cy="8" r="3.3" fill="none" stroke="#8f929c" stroke-width="1.1"/><g fill="#8f929c"><path d="M8 2.4 L9 4.4 H7 Z"/><path d="M8 13.6 L9 11.6 H7 Z"/><path d="M2.4 8 L4.4 7 V9 Z"/><path d="M13.6 8 L11.6 7 V9 Z"/><path d="M4 4 L6.1 4.8 L4.8 6.1 Z"/><path d="M12 4 L9.9 4.8 L11.2 6.1 Z"/><path d="M4 12 L6.1 11.2 L4.8 9.9 Z"/><path d="M12 12 L9.9 11.2 L11.2 9.9 Z"/></g></svg>
</div>
<div id="bar">
<div class="t" style="left:12px">1D</div>
<div class="t" style="left:34.5px">5D</div>
<div class="t" style="left:58.5px">1M</div>
<div class="t" style="left:82.5px">3M</div>
<div class="t" style="left:107px">6M</div>
<div class="t" style="left:132px">YTD</div>
<div class="t" style="left:162.5px">1Y</div>
<div class="t" style="left:184.5px">5Y</div>
<div class="t" style="left:206.5px">All</div>
<div class="sep" style="left:230px"></div>
<svg width="16" height="14" viewBox="0 0 16 14" style="left:240px;top:6px"><path d="M2.8 6.6 V3.6 Q2.8 2.1 4.3 2.1 H12.5 Q14 2.1 14 3.6 V11 Q14 12.5 12.5 12.5 H8.1 M2.8 5.4 H14 M5.3 1.4 V3.3 M10.5 1.4 V3.3 M1.6 10 H6.8 M4.2 7.5 L7 10 L4.2 12.5" fill="none" stroke="#b7bac3" stroke-width="1"/></svg>
<div class="t" style="left:855.8px;font-size:10.4px">00:56:45 (UTC)</div>
<div class="sep" style="left:940px"></div>
<div class="t" style="left:952.4px">%</div>
<div class="t" style="left:972px">log</div>
<div class="t" style="left:995.5px">auto</div>
</div>
</body></html>
